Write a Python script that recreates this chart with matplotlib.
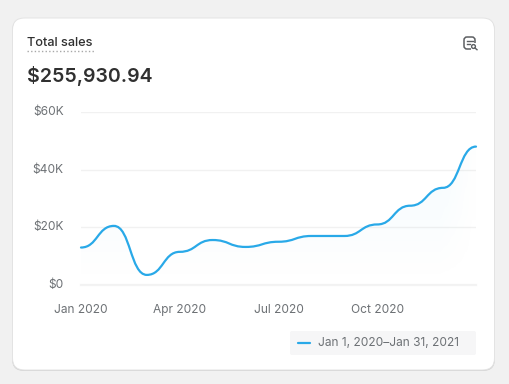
import numpy as np
import matplotlib
matplotlib.use("Agg")
import matplotlib.pyplot as plt
from matplotlib.patches import FancyBboxPatch, Rectangle, Circle, PathPatch
from matplotlib.path import Path
from matplotlib.transforms import ScaledTranslation

plt.rcParams['font.family'] = ['Inter', 'DejaVu Sans']

# --- data ---
months = list(range(13))
sales = [13000, 20500, 3500, 11500, 15600, 13200, 15000, 17000, 17000, 21000, 27500, 33700, 48000]
y_ticks = [0, 20000, 40000, 60000]
y_labels = ['$0', '$20K', '$40K', '$60K']
x_ticks = [0, 3, 6, 9]
x_labels = ['Jan 2020', 'Apr 2020', 'Jul 2020', 'Oct 2020']
title = 'Total sales'
total = '$255,930.94'
legend_label = 'Jan 1, 2020\u2013Jan 31, 2021'

W, H = 510, 384
LINE = '#29a9e8'
TICK = '#6d7175'
DARK = '#303030'

fig = plt.figure(figsize=(W / 100, H / 100), dpi=100, facecolor='#f1f1f1')

# --- card and header, in pixel coords ---
bg = fig.add_axes([0, 0, 1, 1], zorder=0)
bg.set_xlim(0, W)
bg.set_ylim(H, 0)
bg.axis('off')
bg.add_patch(FancyBboxPatch((12, 19), 483, 352, boxstyle='round,pad=0,rounding_size=12',
                            fc='#d2d2d2', ec='none'))
bg.add_patch(FancyBboxPatch((12.5, 18), 482, 352, boxstyle='round,pad=0,rounding_size=12',
                            fc='white', ec='#e3e3e3', lw=0.7))
bg.text(27, 42.5, title, fontsize=9.2, color=DARK, va='center', ha='left', fontweight=500)
bg.plot([27.5, 94], [51, 51], color='#a8a8a8', lw=1, dashes=(1, 1.6))
bg.text(27, 76, total, fontsize=14.1, fontweight=600, color=DARK, va='center', ha='left')

# icon
icon = '#5c5f62'
bg.add_patch(FancyBboxPatch((464, 37), 11, 12, boxstyle='round,pad=0,rounding_size=3',
                            fc='none', ec=icon, lw=1.1))
bg.add_patch(Rectangle((471, 43), 7, 7, fc='white', ec='none'))
bg.plot([467, 473], [40.5, 40.5], color=icon, lw=1)
bg.plot([467, 470], [44, 44], color=icon, lw=1)
bg.add_patch(Circle((473.5, 46.5), 1.9, fc='none', ec=icon, lw=1))
bg.plot([475, 477], [48, 49.7], color=icon, lw=1)

# --- chart ---
ax = fig.add_axes([81 / W, 1 - 285 / H, (476 - 81) / W, (285 - 112) / H], zorder=1)
ax.patch.set_alpha(0)
ax.set_xlim(0, 12)
ax.set_ylim(0, 60000)
for s in ax.spines.values():
    s.set_visible(False)
ax.set_yticks(y_ticks, y_labels)
ax.set_xticks(x_ticks, x_labels)
ax.tick_params(axis='y', length=0, pad=12.5, labelsize=8.6, labelcolor=TICK)
ax.tick_params(axis='x', length=0, pad=14, labelsize=8.6, labelcolor=TICK)
ax.grid(axis='y', color='#f1f1f1', lw=1)
ax.set_axisbelow(True)
ax.axhline(0, color='#f3f3f3', lw=1.6, clip_on=False, zorder=0.5)
shift = ScaledTranslation(0, 1.5 / 100, fig.dpi_scale_trans)
for lab in ax.get_yticklabels():
    lab.set_transform(lab.get_transform() + shift)

# curve with flat tangents at every month
verts = [(months[0], sales[0])]
codes = [Path.MOVETO]
for i in range(len(months) - 1):
    mid = (months[i] + months[i + 1]) / 2
    verts += [(mid, sales[i]), (mid, sales[i + 1]), (months[i + 1], sales[i + 1])]
    codes += [Path.CURVE4] * 3
curve = Path(verts, codes)

# pale gradient under the curve, fades out down and at the far right
area = Path(verts + [(months[-1], 0), (months[0], 0), (months[0], sales[0])],
            codes + [Path.LINETO, Path.LINETO, Path.LINETO])
grad = np.zeros((100, 60, 4))
grad[..., 0], grad[..., 1], grad[..., 2] = 0.161, 0.663, 0.91
fade_x = np.clip((60 - np.arange(60)) / 6, 0, 1)
grad[..., 3] = np.outer(np.linspace(0.05, 0, 100), fade_x)
im = ax.imshow(grad, extent=[0, 12, 0, 48000], origin='upper', aspect='auto', zorder=1)
im.set_clip_path(PathPatch(area, transform=ax.transData))
ax.set_xlim(0, 12)
ax.set_ylim(0, 60000)

line = PathPatch(curve, fc='none', ec=LINE, lw=1.6, capstyle='round', zorder=3, clip_on=False)
ax.add_patch(line)

# legend box in pixel coords
bg.add_patch(FancyBboxPatch((290, 331), 186, 24, boxstyle='round,pad=0,rounding_size=2',
                            fc='#f6f6f7', ec='none'))
bg.plot([298.5, 310.5], [343, 343], color=LINE, lw=1.6, solid_capstyle='round')
bg.text(318, 343, legend_label, fontsize=8.6, color=TICK, va='center', ha='left')

fig.savefig('out.png', dpi=100, facecolor=fig.get_facecolor())
